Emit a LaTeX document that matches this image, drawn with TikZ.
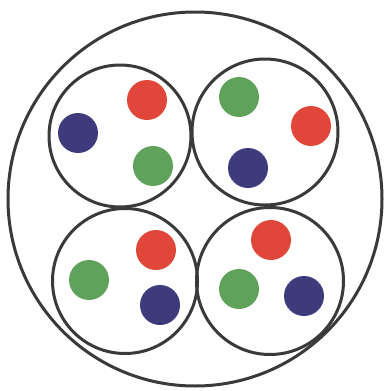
\documentclass[tikz,border=0pt]{standalone}
\definecolor{dred}{HTML}{E0473A}
\definecolor{dgreen}{HTML}{5EA25C}
\definecolor{dblue}{HTML}{3E3A7C}
\definecolor{ring}{HTML}{3A3A3A}
\tikzset{
  ringline/.style={draw=ring,line width=3pt,circle,inner sep=0pt},
  dot/.style={circle,inner sep=0pt,minimum size=40pt},
  rdot/.style={dot,fill=dred},
  gdot/.style={dot,fill=dgreen},
  bdot/.style={dot,fill=dblue}
}
\begin{document}
\begin{tikzpicture}[x=1pt,y=-1pt]
\useasboundingbox (0,0) rectangle (387,391);
\fill[white] (0,0) rectangle (387,391);
\node[ringline,minimum size=374pt] (outer) at (195,199) {};
\node[ringline,minimum size=142pt] (tl) at (120,136) {};
\node[ringline,minimum size=146pt] (tr) at (265,132) {};
\node[ringline,minimum size=145pt] (bl) at (125,281) {};
\node[ringline,minimum size=147pt] (br) at (270,281) {};
% top-left
\node[rdot] (tlr) at (147,100) {};
\node[bdot] (tlb) at (78,133) {};
\node[gdot] (tlg) at (153,166) {};
% top-right
\node[gdot] (trg) at (239,97) {};
\node[rdot] (trr) at (311,126) {};
\node[bdot] (trb) at (248,168) {};
% bottom-left
\node[rdot] (blr) at (156,250) {};
\node[gdot] (blg) at (89,280) {};
\node[bdot] (blb) at (160,305) {};
% bottom-right
\node[rdot] (brr) at (271,240) {};
\node[gdot] (brg) at (239,289) {};
\node[bdot] (brb) at (304,296) {};
\end{tikzpicture}
\end{document}
